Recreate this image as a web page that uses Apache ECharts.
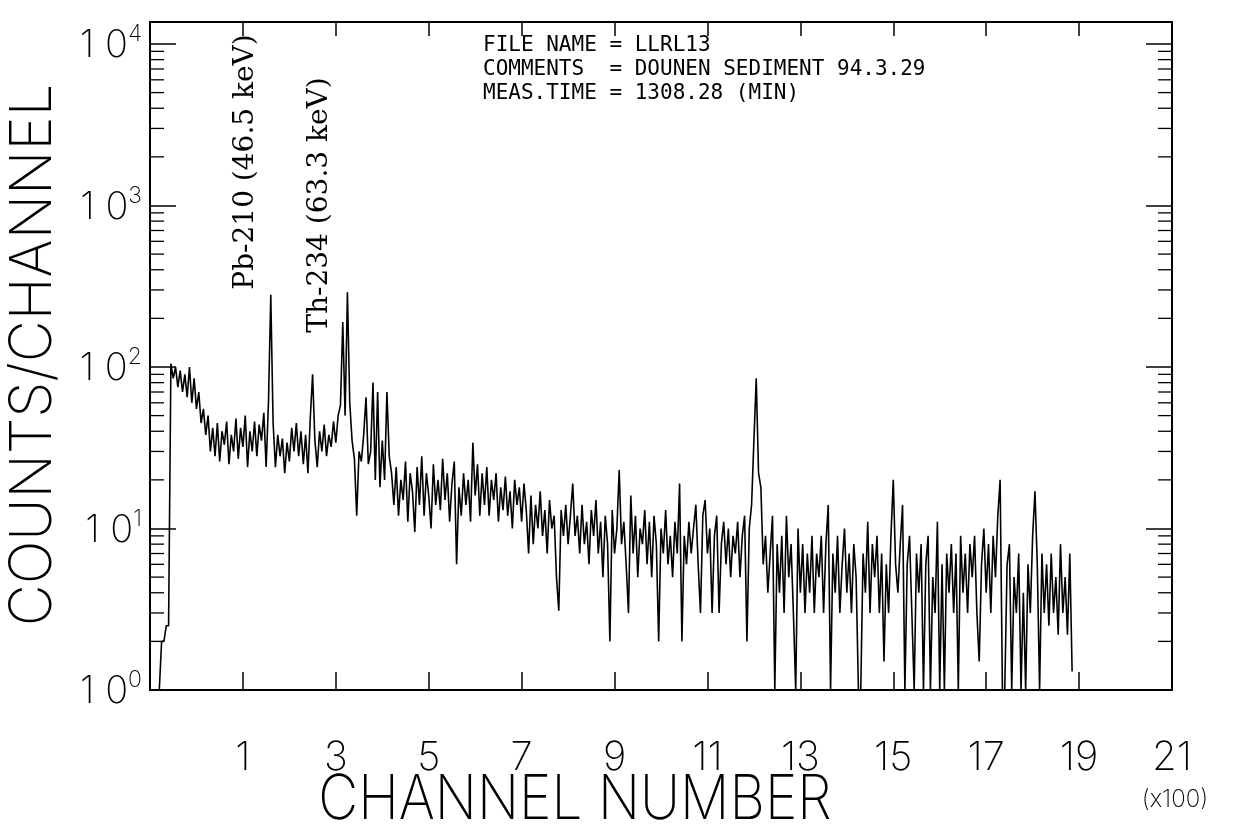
<!DOCTYPE html>
<html>
<head>
<meta charset="utf-8">
<script src="https://cdn.jsdelivr.net/npm/echarts@6/dist/echarts.min.js"></script>
<style>
html,body{margin:0;padding:0;background:#fff;}
#c{width:1239px;height:830px;}
</style>
</head>
<body>
<div id="c"></div>
<script>
// channel axis in units of 100 channels
const CH_START = -0.8;
const CH_STEP = 0.05;
// counts per channel, one row per 100 channels starting at CH_START
const counts = [
  1, 2, 2, 2.5, 2.5, 105, 85, 100, 75, 95, 70, 90, 65, 100, 60, 85, 55, 70, 45, 55,
  38, 50, 30, 42, 28, 45, 26, 40, 33, 46, 25, 38, 30, 48, 27, 42, 32, 50, 24, 40,
  30, 46, 28, 44, 35, 52, 24, 60, 280, 45, 24, 38, 28, 36, 22, 34, 26, 42, 30, 45,
  28, 40, 25, 38, 22, 48, 90, 35, 24, 40, 30, 44, 28, 38, 32, 46, 34, 50, 58, 190,
  50, 290, 60, 35, 27, 12, 30, 26, 38, 65, 25, 30, 80, 20, 70, 18, 35, 20, 70, 28,
  22, 14, 24, 12, 20, 15, 26, 11, 22, 17, 9.5, 24, 14, 28, 12, 22, 16, 10, 25, 14,
  20, 13, 27, 15, 22, 11, 19, 26, 6, 18, 12, 22, 14, 20, 11, 34, 16, 25, 12, 22,
  14, 24, 12, 20, 15, 22, 11, 18, 13, 21, 12, 17, 10, 20, 14, 18, 11, 19, 13, 7,
  16, 8, 14, 10, 17, 9, 13, 7, 15, 10, 12, 5, 3.1, 13, 9, 14, 8, 12, 19, 9,
  12, 7, 14, 8, 11, 6, 13, 9, 15, 7, 11, 5, 12, 8, 2, 13, 7, 10, 23, 8,
  11, 6, 3, 16, 7, 12, 5, 10, 8, 13, 6, 11, 5, 12, 8, 2, 10, 7, 13, 6,
  9, 5, 11, 7, 19, 2, 9, 6, 11, 7, 10, 14, 6, 3, 12, 15, 7, 10, 3, 9,
  12, 3, 8, 11, 6, 10, 5, 9, 7, 11, 5, 9, 12, 2, 10, 14, 35, 85, 22, 18,
  6, 9, 4, 7, 12, 1, 8, 4, 9, 3, 12, 5, 8, 3, 1, 10, 4, 8, 3, 7,
  4, 9, 3, 7, 5, 9, 3, 8, 14, 1, 7, 4, 9, 3, 6, 10, 4, 7, 3, 8,
  5, 1, 1, 7, 4, 11, 3, 8, 5, 9, 3, 7, 1.5, 6, 3, 9, 20, 6, 4, 8,
  14, 1, 6, 9, 3, 1, 7, 4, 8, 1, 6, 9, 1, 5, 3, 11, 1, 6, 1, 7,
  4, 8, 3, 7, 1, 9, 4, 7, 3, 8, 5, 9, 3, 1.5, 6, 10, 4, 8, 3, 9,
  5, 12, 20, 1, 1, 6, 8, 1, 5, 3, 7, 1, 4, 1, 6, 3, 9, 17, 6, 1,
  7, 3, 6, 2.5, 7, 3, 5, 2.2, 8, 3, 5, 2.2, 7, 1.3
];
const X_MIN = -1, X_MAX = 21, X_STEP = 2;
const Y_MIN = 1, Y_MAX = 13680;
// minor tick positions of the log axis (2..9 in each decade)
const minorTickValues = [
  2, 3, 4, 5, 6, 7, 8, 9,
  20, 30, 40, 50, 60, 70, 80, 90,
  200, 300, 400, 500, 600, 700, 800, 900,
  2000, 3000, 4000, 5000, 6000, 7000, 8000, 9000
];
const infoLines = [
  'FILE NAME = LLRL13',
  'COMMENTS  = DOUNEN SEDIMENT 94.3.29',
  'MEAS.TIME = 1308.28 (MIN)'
];
const peakLabels = ['Pb-210 (46.5 keV)', 'Th-234 (63.3 keV)'];

const data = counts.map((c, i) => [+(CH_START + i * CH_STEP).toFixed(3), c]);

const THIN = '"Inter", "DejaVu Sans", sans-serif';
const isPow10 = v => { const l = Math.log10(v); return Math.abs(l - Math.round(l)) < 1e-6; };

const chart = echarts.init(document.getElementById('c'), null, {renderer: 'canvas'});
const axisLineStyle = {color: '#000', width: 2};
const yCommon = {
  type: 'log', logBase: 10, min: Y_MIN, max: Y_MAX,
  axisLine: {show: true, onZero: false, lineStyle: axisLineStyle},
  axisTick: {show: true, inside: true, length: 26, lineStyle: {color: '#000', width: 1.5}},
  minorTick: {show: false},
  splitLine: {show: false}, minorSplitLine: {show: false}
};
const xCommon = {
  type: 'value', min: X_MIN, max: X_MAX, interval: X_STEP,
  axisLine: {show: true, onZero: false, lineStyle: axisLineStyle},
  axisTick: {show: true, inside: true, length: 18, lineStyle: {color: '#000', width: 1.5}},
  splitLine: {show: false}
};
const TEXT = (x, y, text, font, align, rot, sy) => ({
  type: 'text', x: x, y: y, rotation: rot || 0, scaleY: sy || 1,
  style: {text: text, font: font, fill: '#000', align: align, verticalAlign: 'middle', textAlign: align, textVerticalAlign: 'middle'}
});
chart.setOption({
  animation: false,
  backgroundColor: '#fff',
  grid: {left: 150, right: 67, top: 22, bottom: 140},
  xAxis: [
    Object.assign({}, xCommon, {
      position: 'bottom',
      axisLabel: {
        show: true, margin: 48, color: '#000', fontFamily: THIN, fontWeight: 200, fontSize: 40,
        formatter: v => (v < 1 ? '' : String(v))
      }
    }),
    Object.assign({}, xCommon, {
      position: 'top', axisLabel: {show: false},
      axisTick: {show: true, inside: true, length: 14, lineStyle: {color: '#000', width: 1.5}}
    })
  ],
  yAxis: [
    Object.assign({}, yCommon, {
      position: 'left',
      axisLabel: {
        show: true, margin: 8, color: '#000',
        formatter: v => isPow10(v) ? '{b|1 0}{s|' + Math.round(Math.log10(v)) + '}' : '',
        rich: {
          b: {fontFamily: THIN, fontWeight: 200, fontSize: 38, lineHeight: 42, verticalAlign: 'bottom'},
          s: {fontFamily: THIN, fontWeight: 200, fontSize: 23, lineHeight: 42, verticalAlign: 'top', padding: [0, 0, 14, 0]}
        }
      }
    }),
    Object.assign({}, yCommon, {position: 'right', axisLabel: {show: false}})
  ],
  series: [
    {
      type: 'line', data: data, showSymbol: false, symbol: 'none',
      sampling: null, lineStyle: {color: '#000', width: 1.6}, silent: true
    },
    {
      type: 'custom', silent: true, clip: false,
      data: minorTickValues.map(v => [X_MIN, v]),
      encode: {x: 0, y: 1},
      renderItem: (params, api) => {
        const v = api.value(1);
        const l = api.coord([X_MIN, v]);
        const r = api.coord([X_MAX, v]);
        const st = {stroke: '#000', lineWidth: 1.3};
        return {type: 'group', children: [
          {type: 'line', shape: {x1: l[0], y1: l[1], x2: l[0] + 14, y2: l[1]}, style: st},
          {type: 'line', shape: {x1: r[0], y1: r[1], x2: r[0] - 14, y2: r[1]}, style: st}
        ]};
      }
    }
  ],
  graphic: [
    TEXT(34, 355, 'COUNTS/CHANNEL', '200 58px ' + THIN, 'center', Math.PI / 2),
    TEXT(575, 800, 'CHANNEL NUMBER', '200 55px ' + THIN, 'center', 0, 1.12),
    TEXT(1175, 800, '(x100)', '200 24px ' + THIN, 'center'),
    TEXT(483, 46, infoLines[0], '21px "DejaVu Sans Mono", monospace', 'left'),
    TEXT(483, 70, infoLines[1], '21px "DejaVu Sans Mono", monospace', 'left'),
    TEXT(483, 94, infoLines[2], '21px "DejaVu Sans Mono", monospace', 'left'),
    TEXT(246, 162, peakLabels[0], '28px "DejaVu Serif", serif', 'center', Math.PI / 2),
    TEXT(320, 205, peakLabels[1], '28px "DejaVu Serif", serif', 'center', Math.PI / 2)
  ]
});
</script>
</body>
</html>
